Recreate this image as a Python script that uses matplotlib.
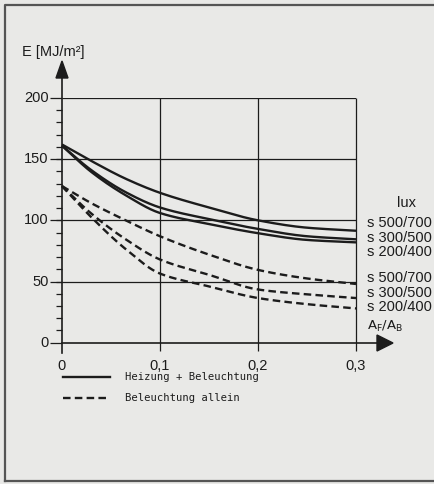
import numpy as np
import matplotlib
matplotlib.use('AGG')
import matplotlib.pyplot as plt
from matplotlib.patches import Polygon

# Werte (A_F/A_B -> E in MJ/m²)
ratio = [0, 0.03, 0.065, 0.1, 0.15, 0.2, 0.25, 0.3]
heiz_500_700 = [162, 148.5, 134, 122.5, 110.5, 100, 94, 91.5]
heiz_300_500 = [161, 141, 123, 110.5, 101, 93, 87, 84.5]
heiz_200_400 = [161, 139.5, 120.5, 106, 97, 89.5, 84, 82]
bel_500_700 = [128, 114, 100, 87, 72, 59.5, 52.5, 48]
bel_300_500 = [128, 105.5, 84.5, 68, 55.5, 43.5, 39.5, 36.5]
bel_200_400 = [128, 102.5, 76.5, 56.5, 46, 36.5, 31.5, 28]

y_ticks = [0, 50, 100, 150, 200]
x_ticks = [0, 0.1, 0.2, 0.3]
x_ticklabels = ['0', '0,1', '0,2', '0,3']
lux_labels = ['s 500/700', 's 300/500', 's 200/400']

W, H = 435, 484
BG = '#e9e9e7'
INK = '#1c1c1c'
SANS = ['Liberation Sans', 'DejaVu Sans']
MONO = ['DejaVu Sans Mono']


def pchip(x, y, n=200):
    x = np.asarray(x, float)
    y = np.asarray(y, float)
    h = np.diff(x)
    d = np.diff(y) / h
    m = np.zeros_like(y)
    for k in range(1, len(x) - 1):
        if d[k - 1] * d[k] > 0:
            w1 = 2 * h[k] + h[k - 1]
            w2 = h[k] + 2 * h[k - 1]
            m[k] = (w1 + w2) / (w1 / d[k - 1] + w2 / d[k])
    m[0] = d[0]
    m[-1] = d[-1]
    xs = np.linspace(x[0], x[-1], n)
    idx = np.clip(np.searchsorted(x, xs) - 1, 0, len(x) - 2)
    t = (xs - x[idx]) / h[idx]
    h00 = 2 * t**3 - 3 * t**2 + 1
    h10 = t**3 - 2 * t**2 + t
    h01 = -2 * t**3 + 3 * t**2
    h11 = t**3 - t**2
    ys = h00 * y[idx] + h10 * h[idx] * m[idx] + h01 * y[idx + 1] + h11 * h[idx] * m[idx + 1]
    return xs, ys


fig = plt.figure(figsize=(W / 100, H / 100), dpi=100, facecolor=BG)

# Overlay in Pixelkoordinaten fuer Rahmen, Pfeile, Beschriftungen
ov = fig.add_axes([0, 0, 1, 1], zorder=0)
ov.set_xlim(0, W)
ov.set_ylim(H, 0)
ov.axis('off')
ov.patch.set_alpha(0)

# Datenachsen
x0, x1 = 62, 356
y0, y1 = 342.7, 98
ax = fig.add_axes([x0 / W, 1 - y0 / H, (x1 - x0) / W, (y0 - y1) / H], zorder=1)
ax.set_xlim(0, 0.3)
ax.set_ylim(0, 200)
ax.axis('off')
ax.patch.set_alpha(0)

# Rahmen des Bildes
ov.plot([5, 5, W], [481, 5, 5], color='#555555', lw=1.6)
ov.plot([5, W], [481, 481], color='#555555', lw=1.6)

# Gitter
ax.hlines(y_ticks[1:], 0, 0.3, color=INK, lw=0.9)
ax.vlines(x_ticks[1:], -7, 200, color=INK, lw=0.9, clip_on=False)

# y-Achse mit Teilstrichen
ax.hlines(y_ticks, -0.012, 0, color=INK, lw=0.9, clip_on=False)
ax.hlines(np.arange(10, 200, 10), -0.006, 0, color=INK, lw=0.9, clip_on=False)
for v in y_ticks:
    ax.text(-0.0135, v, str(v), ha='right', va='center', fontsize=10.5,
            family=SANS, color=INK)
for v, lab in zip(x_ticks, x_ticklabels):
    ax.text(v, -19, lab, ha='center', va='center', fontsize=10.5,
            family=SANS, color=INK)

ov.plot([x0, x0], [353, 76], color=INK, lw=1.2)
ov.add_patch(Polygon([[56, 78], [68, 78], [62, 61]], closed=True, color=INK))
ov.plot([x0, 378], [y0, y0], color=INK, lw=1.2)
ov.add_patch(Polygon([[377, 335], [377, 351], [393, 343]], closed=True, color=INK))

ov.text(22, 52, 'E [MJ/m²]', ha='left', va='center', fontsize=10.5,
        family=SANS, color=INK)
ov.text(385, 326, r'$\mathsf{A_F/A_B}$', ha='center', va='center',
        fontsize=9.5, color=INK)

# Kurven
for vals in (heiz_500_700, heiz_300_500, heiz_200_400):
    xs, ys = pchip(ratio, vals)
    ax.plot(xs, ys, color=INK, lw=1.7, clip_on=False, solid_capstyle='butt')
for vals in (bel_500_700, bel_300_500, bel_200_400):
    xs, ys = pchip(ratio, vals)
    ax.plot(xs, ys, color=INK, lw=1.7, dashes=(3.2, 1.8), clip_on=False)

# lux-Beschriftung
ov.text(407, 203, 'lux', ha='center', va='center', fontsize=10.5,
        family=SANS, color=INK)
for lab, ypx in zip(lux_labels, [223, 238, 252]):
    ov.text(367, ypx, lab, ha='left', va='center', fontsize=10.5,
            family=SANS, color=INK)
for lab, ypx in zip(lux_labels, [278, 293, 307]):
    ov.text(367, ypx, lab, ha='left', va='center', fontsize=10.5,
            family=SANS, color=INK)

# Legende
ov.plot([63, 110], [377, 377], color=INK, lw=1.7)
ov.plot([63, 110], [398, 398], color=INK, lw=1.7, dashes=(3.2, 1.8))
ov.text(125, 377, 'Heizung + Beleuchtung', ha='left', va='center',
        fontsize=7.6, family=MONO, color=INK)
ov.text(125, 398, 'Beleuchtung allein', ha='left', va='center',
        fontsize=7.6, family=MONO, color=INK)

fig.savefig('out.png', dpi=100, facecolor=BG)
plt.close(fig)
